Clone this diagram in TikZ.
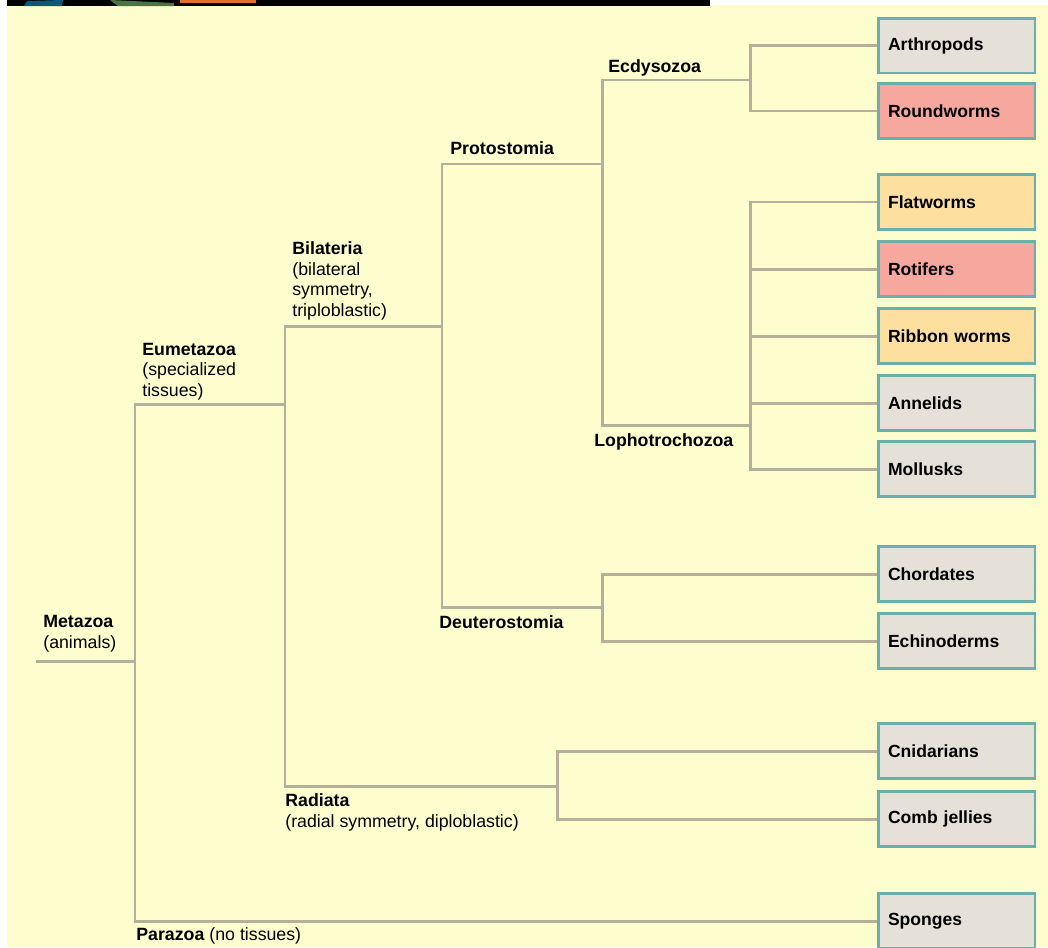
\documentclass[tikz,border=0pt]{standalone}
\usepackage{fontspec}
\setmainfont{Liberation Sans}
\usepackage{tikz}
\usetikzlibrary{positioning}

\definecolor{bgyellow}{HTML}{FEFDCD}
\definecolor{branchgray}{HTML}{B9AE9B}
\definecolor{boxteal}{HTML}{6AAFAA}
\definecolor{boxgray}{HTML}{E5E1D8}
\definecolor{boxred}{HTML}{F6A79E}
\definecolor{boxorange}{HTML}{FDDFA0}
\definecolor{barblue}{HTML}{0B5878}
\definecolor{bargreen}{HTML}{4B7442}
\definecolor{barorange}{HTML}{E07030}

\tikzset{
  branch/.style={draw=branchgray, line width=1.7pt},
  taxon/.style={draw=boxteal, line width=1.7pt, minimum width=3.14cm, minimum height=1.1cm,
    inner xsep=0.18cm, text width=2.74cm, align=left, font=\bfseries},
  graybox/.style={taxon, fill=boxgray},
  redbox/.style={taxon, fill=boxred},
  orangebox/.style={taxon, fill=boxorange},
  clade/.style={anchor=base west, inner sep=0pt, align=left}
}

\begin{document}
\begin{tikzpicture}[x=0.02cm, y=-0.02cm, every node/.style={font=\fontsize{10.1}{11.6}\selectfont}]
  \useasboundingbox (0,0) rectangle (1048,947);
  % ==================== background ====================
  \fill[bgyellow] (7,5) rectangle (1048,947);
  \fill[black] (7,0) rectangle (710,6);
  \fill[barblue] (24,6) -- (27,1) -- (63,0) -- (62,6) -- cycle;
  \fill[bargreen] (110,0) -- (174,3) -- (174,6) -- (118,6) -- cycle;
  \fill[barorange] (180,0) rectangle (256,3);

  % ==================== boxes ====================
  \node[graybox]   (arthro)  at (956.5,45.5) {Arthropods};
  \node[redbox]    (round)   at (956.5,111)  {Roundworms};
  \node[orangebox] (flat)    at (956.5,202)  {Flatworms};
  \node[redbox]    (rotif)   at (956.5,269)  {Rotifers};
  \node[orangebox] (ribbon)  at (956.5,336)  {Ribbon worms};
  \node[graybox]   (annel)   at (956.5,403)  {Annelids};
  \node[graybox]   (mollu)   at (956.5,469)  {Mollusks};
  \node[graybox]   (chord)   at (956.5,574)  {Chordates};
  \node[graybox]   (echino)  at (956.5,641)  {Echinoderms};
  \node[graybox]   (cnid)    at (956.5,751)  {Cnidarians};
  \node[graybox]   (comb)    at (956.5,819)  {Comb jellies};
  \node[graybox]   (sponge)  at (956.5,921)  {Sponges};

  % ==================== branch points ====================
  \coordinate (start) at (36,661);
  \coordinate (meta)  at (135,661);
  \coordinate (eume)  at (285,404);
  \coordinate (bila)  at (442,326);
  \coordinate (radi)  at (557,786);
  \coordinate (proto) at (602,164);
  \coordinate (deut)  at (602,607);
  \coordinate (ecdy)  at (750,80);
  \coordinate (lopho) at (750,425);

  % ==================== tree ====================
  \draw[branch] (start) -- (meta);
  \draw[branch] (meta) |- (eume);
  \draw[branch] (meta) |- (sponge.west);
  \draw[branch] (eume) |- (bila);
  \draw[branch] (eume) |- (radi);
  \draw[branch] (radi) |- (cnid.west);
  \draw[branch] (radi) |- (comb.west);
  \draw[branch] (bila) |- (proto);
  \draw[branch] (bila) |- (deut);
  \draw[branch] (deut) |- (chord.west);
  \draw[branch] (deut) |- (echino.west);
  \draw[branch] (proto) |- (ecdy);
  \draw[branch] (proto) |- (lopho);
  \draw[branch] (ecdy) |- (arthro.west);
  \draw[branch] (ecdy) |- (round.west);
  \foreach \t in {flat, rotif, ribbon, annel, mollu}
    \draw[branch] (lopho) |- (\t.west);

  % ==================== clade labels (base = last line) ====================
  \node[clade] (metaL)  at (43,648)  {\textbf{Metazoa}\\(animals)};
  \node[clade] (eumeL)  at (142,396) {\textbf{Eumetazoa}\\(specialized\\tissues)};
  \node[clade] (bilaL)  at (292,316) {\textbf{Bilateria}\\(bilateral\\symmetry,\\triploblastic)};
  \node[clade] (protoL) at (450,154) {\textbf{Protostomia}};
  \node[clade] (ecdyL)  at (608,72)  {\textbf{Ecdysozoa}};
  \node[clade] (lophoL) at (594,446) {\textbf{Lophotrochozoa}};
  \node[clade] (deutL)  at (439,628) {\textbf{Deuterostomia}};
  \node[clade] (radiL)  at (285,827) {\textbf{Radiata}\\(radial symmetry, diploblastic)};
  \node[clade] (paraL)  at (136,940) {\textbf{Parazoa} (no tissues)};
\end{tikzpicture}
\end{document}
